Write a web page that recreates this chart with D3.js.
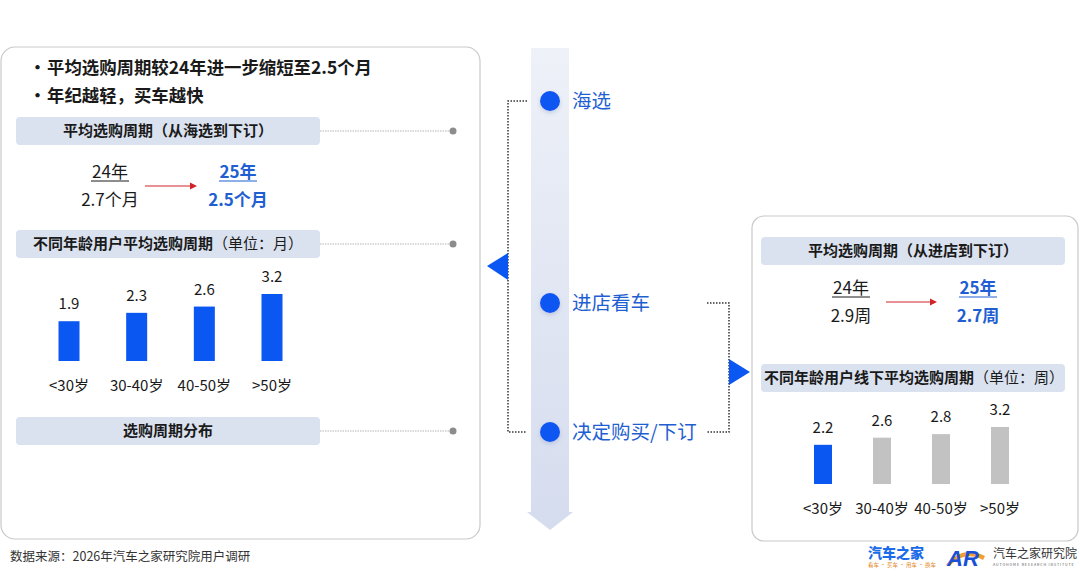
<!DOCTYPE html>
<html>
<head>
<meta charset="utf-8">
<script src="https://cdn.jsdelivr.net/npm/d3@7"></script>
<style>
  body { margin: 0; background: #fff; }
  svg { display: block; font-family: "Noto Sans CJK SC", "Noto Sans", sans-serif; }
</style>
</head>
<body>
<div id="chart"></div>
<script>
// data
const ageGroups = ['<30岁', '30-40岁', '40-50岁', '>50岁'];
const monthsByAge = [1.9, 2.3, 2.6, 3.2];      // 海选到下订, 月
const weeksByAge = [2.2, 2.6, 2.8, 3.2];       // 进店到下订, 周
const bullets = ['平均选购周期较24年进一步缩短至2.5个月', '年纪越轻，买车越快'];
const stages = ['海选', '进店看车', '决定购买/下订'];
const onlineCompare = {from: '24年', fromVal: '2.7个月', to: '25年', toVal: '2.5个月'};
const storeCompare = {from: '24年', fromVal: '2.9周', to: '25年', toVal: '2.7周'};
const source = '数据来源：2026年汽车之家研究院用户调研';

const W = 1080, H = 588;
const blue = '#0b57f2', textBlue = '#1f5fd1', gray = '#c2c2c2', ink = '#1a1a1a';

const svg = d3.select('#chart').append('svg')
  .attr('width', W)
  .attr('height', H);

const defs = svg.append('defs');
const grad = defs.append('linearGradient').attr('id', 'band').attr('x1', 0).attr('y1', 0).attr('x2', 0).attr('y2', 1);
grad.append('stop').attr('offset', '0%').attr('stop-color', '#eef1f8');
grad.append('stop').attr('offset', '100%').attr('stop-color', '#d5dcee');
const glow = defs.append('filter').attr('id', 'glow').attr('x', '-50%').attr('y', '-50%').attr('width', '200%').attr('height', '200%');
glow.append('feDropShadow').attr('dx', 0).attr('dy', 2).attr('stdDeviation', 2).attr('flood-color', '#7a8fc0').attr('flood-opacity', 0.35);

// panels
svg.append('rect').attr('x', 1).attr('y', 47).attr('width', 479).attr('height', 492).attr('rx', 14)
  .attr('fill', '#fff').attr('stroke', '#c9c9c9').attr('stroke-width', 1.2);
svg.append('rect').attr('x', 752).attr('y', 216).attr('width', 326).attr('height', 325).attr('rx', 12)
  .attr('fill', '#fff').attr('stroke', '#c9c9c9').attr('stroke-width', 1.2);

// bullets
bullets.forEach((b, i) => {
  const y = 74 + i * 28;
  svg.append('text').attr('x', 29).attr('y', y).attr('font-size', 17).attr('font-weight', 700).attr('fill', ink).text('•');
  svg.append('text').attr('x', 47).attr('y', y).attr('font-size', 17.4).attr('font-weight', 700).attr('fill', ink).text(b);
});

// header bars
function header(x, y, w, label, unit, textX, dotX) {
  svg.append('rect').attr('x', x).attr('y', y).attr('width', w).attr('height', 28).attr('rx', 4).attr('fill', '#dae2ef');
  const t = svg.append('text')
    .attr('x', textX == null ? x + w / 2 : textX)
    .attr('y', y + 19).attr('font-size', 15).attr('fill', ink)
    .attr('text-anchor', textX == null ? 'middle' : 'start');
  t.append('tspan').attr('font-weight', 700).text(label);
  if (unit) t.append('tspan').attr('font-weight', 400).text(unit);
  if (dotX) {
    svg.append('line').attr('x1', x + w).attr('x2', dotX).attr('y1', y + 14).attr('y2', y + 14)
      .attr('stroke', '#b5b5b5').attr('stroke-width', 1).attr('stroke-dasharray', '1.5,1');
    svg.append('circle').attr('cx', dotX).attr('cy', y + 14).attr('r', 3.5).attr('fill', '#8c8c8c');
  }
}
header(16, 117, 304, '平均选购周期（从海选到下订）', null, null, 453);
header(16, 230, 304, '不同年龄用户平均选购周期', '（单位：月）', 33, 453);
header(16, 417, 304, '选购周期分布', null, null, 453);
header(761, 237, 304, '平均选购周期（从进店到下订）', null, null, null);
header(761, 364, 304, '不同年龄用户线下平均选购周期', '（单位：周）', 764, null);

// comparison blocks
function compare(c, x0, x1, y, arrowFrom, arrowTo) {
  svg.append('text').attr('x', x0).attr('y', y).attr('text-anchor', 'middle').attr('font-size', 17).attr('fill', ink).text(c.from);
  svg.append('line').attr('x1', x0 - 19).attr('x2', x0 + 19).attr('y1', y + 3).attr('y2', y + 3).attr('stroke', ink).attr('stroke-width', 1);
  svg.append('text').attr('x', x0).attr('y', y + 28).attr('text-anchor', 'middle').attr('font-size', 17).attr('fill', ink).text(c.fromVal);
  svg.append('text').attr('x', x1).attr('y', y).attr('text-anchor', 'middle').attr('font-size', 17).attr('font-weight', 700).attr('fill', textBlue).text(c.to);
  svg.append('line').attr('x1', x1 - 19).attr('x2', x1 + 19).attr('y1', y + 3).attr('y2', y + 3).attr('stroke', textBlue).attr('stroke-width', 1);
  svg.append('text').attr('x', x1).attr('y', y + 28).attr('text-anchor', 'middle').attr('font-size', 17).attr('font-weight', 700).attr('fill', textBlue).text(c.toVal);
  const ay = y + 8;
  svg.append('line').attr('x1', arrowFrom).attr('x2', arrowTo - 6).attr('y1', ay).attr('y2', ay).attr('stroke', '#d1232a').attr('stroke-width', 1);
  svg.append('path').attr('d', `M${arrowTo},${ay}L${arrowTo - 7},${ay - 3.5}L${arrowTo - 7},${ay + 3.5}Z`).attr('fill', '#d1232a');
}
compare(onlineCompare, 110, 238, 178, 145, 197);
compare(storeCompare, 851, 978, 294, 886, 937);

// bar charts
function bars(values, xRange, y0, y1, bw, colorFn) {
  const x = d3.scalePoint().domain(ageGroups).range(xRange);
  const y = d3.scaleLinear().domain([0, 3.2]).range([y0, y1]);
  const g = svg.append('g');
  g.selectAll('rect').data(values).join('rect')
    .attr('x', (d, i) => x(ageGroups[i]) - bw / 2)
    .attr('y', d => y(d))
    .attr('width', bw)
    .attr('height', d => y0 - y(d))
    .attr('fill', (d, i) => colorFn(i));
  g.selectAll('text.val').data(values).join('text').attr('class', 'val')
    .attr('x', (d, i) => x(ageGroups[i]))
    .attr('y', d => y(d) - 12)
    .attr('text-anchor', 'middle').attr('font-size', 15).attr('fill', ink)
    .text(d => d.toFixed(1));
  g.selectAll('text.cat').data(ageGroups).join('text').attr('class', 'cat')
    .attr('x', d => x(d))
    .attr('y', y0 + 30)
    .attr('text-anchor', 'middle').attr('font-size', 15).attr('fill', ink)
    .text(d => d);
}
bars(monthsByAge, [69, 272], 361, 294, 21, () => blue);
bars(weeksByAge, [823, 1000], 484, 427, 18, i => i === 0 ? blue : gray);

// central timeline band
svg.append('path')
  .attr('d', 'M531,48L569,48L569,512L573,512L550,530L527,512L531,512Z')
  .attr('fill', 'url(#band)');

// dotted brackets
const yStage = [101, 303, 432];
const stY = s => yStage[stages.indexOf(s)];
svg.append('path')
  .attr('d', `M527,${stY('海选')}H508V${stY('决定购买/下订')}H527`)
  .attr('fill', 'none').attr('stroke', '#333').attr('stroke-width', 1.5).attr('stroke-dasharray', '1.5,1.5');
svg.append('path').attr('d', 'M487,266L508,253L508,280Z').attr('fill', blue);
svg.append('path')
  .attr('d', `M707,${stY('进店看车')}H729V${stY('决定购买/下订')}H707`)
  .attr('fill', 'none').attr('stroke', '#333').attr('stroke-width', 1.5).attr('stroke-dasharray', '1.5,1.5');
svg.append('path').attr('d', 'M750,372L729,359L729,385Z').attr('fill', blue);

// stage dots and labels
stages.forEach(s => {
  svg.append('circle').attr('cx', 550).attr('cy', stY(s)).attr('r', 10).attr('fill', blue).attr('filter', 'url(#glow)');
  svg.append('text').attr('x', 572).attr('y', stY(s) + 7).attr('font-size', 19.5).attr('fill', textBlue).text(s);
});

// source
svg.append('text').attr('x', 10).attr('y', 561).attr('font-size', 12.5).attr('fill', '#333').text(source);

// logos
svg.append('text').attr('x', 868).attr('y', 558).attr('font-size', 14).attr('font-weight', 900).attr('fill', '#1c6be8').text('汽车之家');
svg.append('text').attr('x', 868).attr('y', 567).attr('font-size', 5.5).attr('fill', '#e58a2a').text('看车 · 买车 · 用车 · 换车');
svg.append('path').attr('d', 'M946,565C955,552 970,548 985,556L983,560C971,553 958,556 950,566Z').attr('fill', '#f0a030');
svg.append('text').attr('x', 947).attr('y', 566).attr('font-size', 22).attr('font-weight', 900).attr('font-style', 'italic').attr('fill', '#1a4fd8').attr('font-family', 'Liberation Sans, Arial, sans-serif').text('AR');
svg.append('text').attr('x', 993).attr('y', 558).attr('font-size', 12).attr('fill', '#333').text('汽车之家研究院');
svg.append('text').attr('x', 993).attr('y', 566).attr('font-size', 3.6).attr('letter-spacing', 0.9).attr('fill', '#555').text('AUTOHOME RESEARCH INSTITUTE');
</script>
</body>
</html>
